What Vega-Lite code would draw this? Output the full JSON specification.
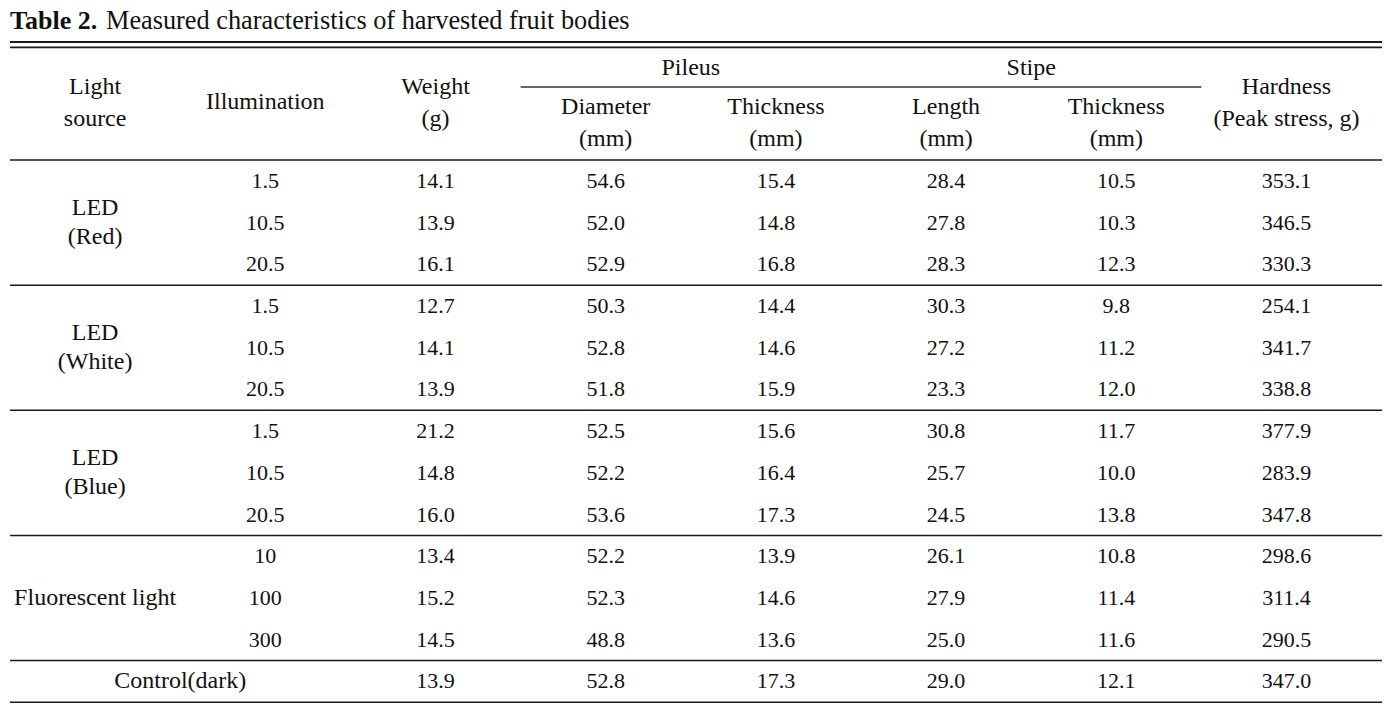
{
  "$schema": "https://vega.github.io/schema/vega-lite/v6.json",
  "width": 1372,
  "height": 705,
  "padding": {"left": 10, "right": 10, "top": 0, "bottom": 0},
  "autosize": {"type": "none"},
  "background": "white",
  "config": {
    "view": {"stroke": null},
    "text": {"font": "Liberation Serif", "fontSize": 22, "color": "#111111"},
    "rule": {"color": "#1a1a1a", "strokeWidth": 1.5}
  },
  "datasets": {
    "rows": [
      {"sample": "Red 1.5", "illum": "1.5", "weight": 14.1, "diameter": 54.6, "pileus_thickness": 15.4, "length": 28.4, "stipe_thickness": 10.5, "hardness": 353.1},
      {"sample": "Red 10.5", "illum": "10.5", "weight": 13.9, "diameter": 52.0, "pileus_thickness": 14.8, "length": 27.8, "stipe_thickness": 10.3, "hardness": 346.5},
      {"sample": "Red 20.5", "illum": "20.5", "weight": 16.1, "diameter": 52.9, "pileus_thickness": 16.8, "length": 28.3, "stipe_thickness": 12.3, "hardness": 330.3},
      {"sample": "White 1.5", "illum": "1.5", "weight": 12.7, "diameter": 50.3, "pileus_thickness": 14.4, "length": 30.3, "stipe_thickness": 9.8, "hardness": 254.1},
      {"sample": "White 10.5", "illum": "10.5", "weight": 14.1, "diameter": 52.8, "pileus_thickness": 14.6, "length": 27.2, "stipe_thickness": 11.2, "hardness": 341.7},
      {"sample": "White 20.5", "illum": "20.5", "weight": 13.9, "diameter": 51.8, "pileus_thickness": 15.9, "length": 23.3, "stipe_thickness": 12.0, "hardness": 338.8},
      {"sample": "Blue 1.5", "illum": "1.5", "weight": 21.2, "diameter": 52.5, "pileus_thickness": 15.6, "length": 30.8, "stipe_thickness": 11.7, "hardness": 377.9},
      {"sample": "Blue 10.5", "illum": "10.5", "weight": 14.8, "diameter": 52.2, "pileus_thickness": 16.4, "length": 25.7, "stipe_thickness": 10.0, "hardness": 283.9},
      {"sample": "Blue 20.5", "illum": "20.5", "weight": 16.0, "diameter": 53.6, "pileus_thickness": 17.3, "length": 24.5, "stipe_thickness": 13.8, "hardness": 347.8},
      {"sample": "Fluorescent 10", "illum": "10", "weight": 13.4, "diameter": 52.2, "pileus_thickness": 13.9, "length": 26.1, "stipe_thickness": 10.8, "hardness": 298.6},
      {"sample": "Fluorescent 100", "illum": "100", "weight": 15.2, "diameter": 52.3, "pileus_thickness": 14.6, "length": 27.9, "stipe_thickness": 11.4, "hardness": 311.4},
      {"sample": "Fluorescent 300", "illum": "300", "weight": 14.5, "diameter": 48.8, "pileus_thickness": 13.6, "length": 25.0, "stipe_thickness": 11.6, "hardness": 290.5},
      {"sample": "Control", "weight": 13.9, "diameter": 52.8, "pileus_thickness": 17.3, "length": 29.0, "stipe_thickness": 12.1, "hardness": 347.0}
    ],
    "groups": [
      {"label": "LED\n(Red)", "col": "source", "mid": "Red 10.5", "first": "Red 1.5", "lines": 2},
      {"label": "LED\n(White)", "col": "source", "mid": "White 10.5", "first": "White 1.5", "lines": 2},
      {"label": "LED\n(Blue)", "col": "source", "mid": "Blue 10.5", "first": "Blue 1.5", "lines": 2},
      {"label": "Fluorescent light", "col": "source", "mid": "Fluorescent 100", "first": "Fluorescent 10", "lines": 1},
      {"label": "Control(dark)", "col": "control", "mid": "Control", "first": "Control", "lines": 1}
    ],
    "header": [
      {"label": "Light\nsource", "col": "source", "level": "main"},
      {"label": "Illumination", "col": "illumination", "level": "single"},
      {"label": "Weight\n(g)", "col": "weight", "level": "main"},
      {"label": "Hardness\n(Peak stress, g)", "col": "hardness", "level": "main"},
      {"label": "Pileus", "col": "pileus", "level": "group"},
      {"label": "Stipe", "col": "stipe", "level": "group"},
      {"label": "Diameter\n(mm)", "col": "diameter", "level": "sub"},
      {"label": "Thickness\n(mm)", "col": "pileus_thickness", "level": "sub"},
      {"label": "Length\n(mm)", "col": "length", "level": "sub"},
      {"label": "Thickness\n(mm)", "col": "stipe_thickness", "level": "sub"}
    ],
    "title": [
      {"part": "bold", "label": "Table 2."},
      {"part": "rest", "label": "Measured characteristics of harvested fruit bodies"}
    ]
  },
  "layer": [
    {
      "data": {"name": "rows"},
      "transform": [{"fold": ["weight", "diameter", "pileus_thickness", "length", "stipe_thickness", "hardness"], "as": ["col", "value"]}],
      "mark": {"type": "text", "baseline": "middle", "align": "center"},
      "encoding": {
        "x": {"field": "col", "type": "nominal", "axis": null, "scale": {"type": "point", "domain": ["edge", "source", "control", "illumination", "_a", "weight", "_b", "diameter", "pileus", "pileus_thickness", "_c", "length", "stipe", "stipe_thickness", "_d", "hardness", "end"], "range": [0, 1361.6], "padding": 0}},
        "y": {"field": "sample", "type": "nominal", "axis": null, "scale": {"type": "band", "domain": ["title", "h1", "h2", "h3", "Red 1.5", "Red 10.5", "Red 20.5", "White 1.5", "White 10.5", "White 20.5", "Blue 1.5", "Blue 10.5", "Blue 20.5", "Fluorescent 10", "Fluorescent 100", "Fluorescent 300", "Control"], "range": [-6.8, 702.2], "paddingInner": 0, "paddingOuter": 0}},
        "text": {"field": "value", "type": "quantitative", "format": ".1f"}
      }
    },
    {
      "data": {"name": "rows"},
      "transform": [{"filter": "isValid(datum.illum)"}],
      "mark": {"type": "text", "baseline": "middle", "align": "center"},
      "encoding": {
        "x": {"datum": "illumination", "type": "nominal", "axis": null, "scale": {"type": "point", "domain": ["edge", "source", "control", "illumination", "_a", "weight", "_b", "diameter", "pileus", "pileus_thickness", "_c", "length", "stipe", "stipe_thickness", "_d", "hardness", "end"], "range": [0, 1361.6], "padding": 0}},
        "y": {"field": "sample", "type": "nominal", "axis": null, "scale": {"type": "band", "domain": ["title", "h1", "h2", "h3", "Red 1.5", "Red 10.5", "Red 20.5", "White 1.5", "White 10.5", "White 20.5", "Blue 1.5", "Blue 10.5", "Blue 20.5", "Fluorescent 10", "Fluorescent 100", "Fluorescent 300", "Control"], "range": [-6.8, 702.2], "paddingInner": 0, "paddingOuter": 0}},
        "text": {"field": "illum", "type": "nominal"}
      }
    },
    {
      "data": {"name": "groups"},
      "transform": [{"filter": "datum.lines === 2"}],
      "mark": {"type": "text", "baseline": "middle", "align": "center", "lineBreak": "\n", "lineHeight": 29, "fontSize": 24},
      "encoding": {
        "x": {"field": "col", "type": "nominal", "axis": null, "scale": {"type": "point", "domain": ["edge", "source", "control", "illumination", "_a", "weight", "_b", "diameter", "pileus", "pileus_thickness", "_c", "length", "stipe", "stipe_thickness", "_d", "hardness", "end"], "range": [0, 1361.6], "padding": 0}},
        "y": {"field": "mid", "type": "nominal", "bandPosition": 0.15, "axis": null, "scale": {"type": "band", "domain": ["title", "h1", "h2", "h3", "Red 1.5", "Red 10.5", "Red 20.5", "White 1.5", "White 10.5", "White 20.5", "Blue 1.5", "Blue 10.5", "Blue 20.5", "Fluorescent 10", "Fluorescent 100", "Fluorescent 300", "Control"], "range": [-6.8, 702.2], "paddingInner": 0, "paddingOuter": 0}},
        "text": {"field": "label", "type": "nominal"}
      }
    },
    {
      "data": {"name": "groups"},
      "transform": [{"filter": "datum.lines === 1"}],
      "mark": {"type": "text", "baseline": "middle", "align": "center", "fontSize": 24},
      "encoding": {
        "x": {"field": "col", "type": "nominal", "axis": null, "scale": {"type": "point", "domain": ["edge", "source", "control", "illumination", "_a", "weight", "_b", "diameter", "pileus", "pileus_thickness", "_c", "length", "stipe", "stipe_thickness", "_d", "hardness", "end"], "range": [0, 1361.6], "padding": 0}},
        "y": {"field": "mid", "type": "nominal", "axis": null, "scale": {"type": "band", "domain": ["title", "h1", "h2", "h3", "Red 1.5", "Red 10.5", "Red 20.5", "White 1.5", "White 10.5", "White 20.5", "Blue 1.5", "Blue 10.5", "Blue 20.5", "Fluorescent 10", "Fluorescent 100", "Fluorescent 300", "Control"], "range": [-6.8, 702.2], "paddingInner": 0, "paddingOuter": 0}},
        "text": {"field": "label", "type": "nominal"}
      }
    },
    {
      "data": {"name": "header"},
      "transform": [{"filter": "datum.level === 'main'"}],
      "mark": {"type": "text", "baseline": "middle", "align": "center", "lineBreak": "\n", "lineHeight": 32, "fontSize": 24},
      "encoding": {
        "x": {"field": "col", "type": "nominal", "axis": null, "scale": {"type": "point", "domain": ["edge", "source", "control", "illumination", "_a", "weight", "_b", "diameter", "pileus", "pileus_thickness", "_c", "length", "stipe", "stipe_thickness", "_d", "hardness", "end"], "range": [0, 1361.6], "padding": 0}},
        "y": {"datum": "h2", "type": "nominal", "bandPosition": 0.26, "axis": null, "scale": {"type": "band", "domain": ["title", "h1", "h2", "h3", "Red 1.5", "Red 10.5", "Red 20.5", "White 1.5", "White 10.5", "White 20.5", "Blue 1.5", "Blue 10.5", "Blue 20.5", "Fluorescent 10", "Fluorescent 100", "Fluorescent 300", "Control"], "range": [-6.8, 702.2], "paddingInner": 0, "paddingOuter": 0}},
        "text": {"field": "label", "type": "nominal"}
      }
    },
    {
      "data": {"name": "header"},
      "transform": [{"filter": "datum.level === 'single'"}],
      "mark": {"type": "text", "baseline": "middle", "align": "center", "fontSize": 24},
      "encoding": {
        "x": {"field": "col", "type": "nominal", "axis": null, "scale": {"type": "point", "domain": ["edge", "source", "control", "illumination", "_a", "weight", "_b", "diameter", "pileus", "pileus_thickness", "_c", "length", "stipe", "stipe_thickness", "_d", "hardness", "end"], "range": [0, 1361.6], "padding": 0}},
        "y": {"datum": "h2", "type": "nominal", "bandPosition": 0.62, "axis": null, "scale": {"type": "band", "domain": ["title", "h1", "h2", "h3", "Red 1.5", "Red 10.5", "Red 20.5", "White 1.5", "White 10.5", "White 20.5", "Blue 1.5", "Blue 10.5", "Blue 20.5", "Fluorescent 10", "Fluorescent 100", "Fluorescent 300", "Control"], "range": [-6.8, 702.2], "paddingInner": 0, "paddingOuter": 0}},
        "text": {"field": "label", "type": "nominal"}
      }
    },
    {
      "data": {"name": "header"},
      "transform": [{"filter": "datum.level === 'sub'"}],
      "mark": {"type": "text", "baseline": "middle", "align": "center", "lineBreak": "\n", "lineHeight": 32, "fontSize": 24},
      "encoding": {
        "x": {"field": "col", "type": "nominal", "axis": null, "scale": {"type": "point", "domain": ["edge", "source", "control", "illumination", "_a", "weight", "_b", "diameter", "pileus", "pileus_thickness", "_c", "length", "stipe", "stipe_thickness", "_d", "hardness", "end"], "range": [0, 1361.6], "padding": 0}},
        "y": {"datum": "h2", "type": "nominal", "bandPosition": 0.74, "axis": null, "scale": {"type": "band", "domain": ["title", "h1", "h2", "h3", "Red 1.5", "Red 10.5", "Red 20.5", "White 1.5", "White 10.5", "White 20.5", "Blue 1.5", "Blue 10.5", "Blue 20.5", "Fluorescent 10", "Fluorescent 100", "Fluorescent 300", "Control"], "range": [-6.8, 702.2], "paddingInner": 0, "paddingOuter": 0}},
        "text": {"field": "label", "type": "nominal"}
      }
    },
    {
      "data": {"name": "header"},
      "transform": [{"filter": "datum.level === 'group'"}],
      "mark": {"type": "text", "baseline": "middle", "align": "center", "fontSize": 24},
      "encoding": {
        "x": {"field": "col", "type": "nominal", "axis": null, "scale": {"type": "point", "domain": ["edge", "source", "control", "illumination", "_a", "weight", "_b", "diameter", "pileus", "pileus_thickness", "_c", "length", "stipe", "stipe_thickness", "_d", "hardness", "end"], "range": [0, 1361.6], "padding": 0}},
        "y": {"datum": "h1", "type": "nominal", "bandPosition": 0.79, "axis": null, "scale": {"type": "band", "domain": ["title", "h1", "h2", "h3", "Red 1.5", "Red 10.5", "Red 20.5", "White 1.5", "White 10.5", "White 20.5", "Blue 1.5", "Blue 10.5", "Blue 20.5", "Fluorescent 10", "Fluorescent 100", "Fluorescent 300", "Control"], "range": [-6.8, 702.2], "paddingInner": 0, "paddingOuter": 0}},
        "text": {"field": "label", "type": "nominal"}
      }
    },
    {
      "data": {"name": "title"},
      "transform": [{"filter": "datum.part === 'bold'"}],
      "mark": {"type": "text", "baseline": "middle", "align": "left", "fontWeight": "bold", "fontSize": 26},
      "encoding": {
        "x": {"datum": "edge", "type": "nominal", "axis": null, "scale": {"type": "point", "domain": ["edge", "source", "control", "illumination", "_a", "weight", "_b", "diameter", "pileus", "pileus_thickness", "_c", "length", "stipe", "stipe_thickness", "_d", "hardness", "end"], "range": [0, 1361.6], "padding": 0}},
        "y": {"datum": "title", "type": "nominal", "bandPosition": 0.655, "axis": null, "scale": {"type": "band", "domain": ["title", "h1", "h2", "h3", "Red 1.5", "Red 10.5", "Red 20.5", "White 1.5", "White 10.5", "White 20.5", "Blue 1.5", "Blue 10.5", "Blue 20.5", "Fluorescent 10", "Fluorescent 100", "Fluorescent 300", "Control"], "range": [-6.8, 702.2], "paddingInner": 0, "paddingOuter": 0}},
        "text": {"field": "label", "type": "nominal"}
      }
    },
    {
      "data": {"name": "title"},
      "transform": [{"filter": "datum.part === 'rest'"}],
      "mark": {"type": "text", "baseline": "middle", "align": "left", "fontSize": 26.3, "dx": 96},
      "encoding": {
        "x": {"datum": "edge", "type": "nominal", "axis": null, "scale": {"type": "point", "domain": ["edge", "source", "control", "illumination", "_a", "weight", "_b", "diameter", "pileus", "pileus_thickness", "_c", "length", "stipe", "stipe_thickness", "_d", "hardness", "end"], "range": [0, 1361.6], "padding": 0}},
        "y": {"datum": "title", "type": "nominal", "bandPosition": 0.655, "axis": null, "scale": {"type": "band", "domain": ["title", "h1", "h2", "h3", "Red 1.5", "Red 10.5", "Red 20.5", "White 1.5", "White 10.5", "White 20.5", "Blue 1.5", "Blue 10.5", "Blue 20.5", "Fluorescent 10", "Fluorescent 100", "Fluorescent 300", "Control"], "range": [-6.8, 702.2], "paddingInner": 0, "paddingOuter": 0}},
        "text": {"field": "label", "type": "nominal"}
      }
    },
    {
      "data": {"values": [{}]},
      "mark": {"type": "rule", "strokeWidth": 2},
      "encoding": {
        "y": {"datum": "h1", "type": "nominal", "bandPosition": 0.17, "axis": null, "scale": {"type": "band", "domain": ["title", "h1", "h2", "h3", "Red 1.5", "Red 10.5", "Red 20.5", "White 1.5", "White 10.5", "White 20.5", "Blue 1.5", "Blue 10.5", "Blue 20.5", "Fluorescent 10", "Fluorescent 100", "Fluorescent 300", "Control"], "range": [-6.8, 702.2], "paddingInner": 0, "paddingOuter": 0}}
      }
    },
    {
      "data": {"values": [{}]},
      "mark": {"type": "rule", "strokeWidth": 1.6},
      "encoding": {
        "y": {"datum": "h1", "type": "nominal", "bandPosition": 0.3, "axis": null, "scale": {"type": "band", "domain": ["title", "h1", "h2", "h3", "Red 1.5", "Red 10.5", "Red 20.5", "White 1.5", "White 10.5", "White 20.5", "Blue 1.5", "Blue 10.5", "Blue 20.5", "Fluorescent 10", "Fluorescent 100", "Fluorescent 300", "Control"], "range": [-6.8, 702.2], "paddingInner": 0, "paddingOuter": 0}}
      }
    },
    {
      "data": {"values": [{}]},
      "mark": {"type": "rule", "strokeWidth": 1.5, "color": "#333333"},
      "encoding": {
        "x": {"datum": "_b", "type": "nominal", "axis": null, "scale": {"type": "point", "domain": ["edge", "source", "control", "illumination", "_a", "weight", "_b", "diameter", "pileus", "pileus_thickness", "_c", "length", "stipe", "stipe_thickness", "_d", "hardness", "end"], "range": [0, 1361.6], "padding": 0}},
        "x2": {"datum": "_d"},
        "y": {"datum": "h2", "type": "nominal", "bandPosition": 0.25, "axis": null, "scale": {"type": "band", "domain": ["title", "h1", "h2", "h3", "Red 1.5", "Red 10.5", "Red 20.5", "White 1.5", "White 10.5", "White 20.5", "Blue 1.5", "Blue 10.5", "Blue 20.5", "Fluorescent 10", "Fluorescent 100", "Fluorescent 300", "Control"], "range": [-6.8, 702.2], "paddingInner": 0, "paddingOuter": 0}}
      }
    },
    {
      "data": {"name": "groups"},
      "mark": {"type": "rule"},
      "encoding": {
        "y": {"field": "first", "type": "nominal", "bandPosition": 0, "axis": null, "scale": {"type": "band", "domain": ["title", "h1", "h2", "h3", "Red 1.5", "Red 10.5", "Red 20.5", "White 1.5", "White 10.5", "White 20.5", "Blue 1.5", "Blue 10.5", "Blue 20.5", "Fluorescent 10", "Fluorescent 100", "Fluorescent 300", "Control"], "range": [-6.8, 702.2], "paddingInner": 0, "paddingOuter": 0}}
      }
    },
    {
      "data": {"values": [{}]},
      "mark": {"type": "rule"},
      "encoding": {
        "y": {"datum": "Control", "type": "nominal", "bandPosition": 1, "axis": null, "scale": {"type": "band", "domain": ["title", "h1", "h2", "h3", "Red 1.5", "Red 10.5", "Red 20.5", "White 1.5", "White 10.5", "White 20.5", "Blue 1.5", "Blue 10.5", "Blue 20.5", "Fluorescent 10", "Fluorescent 100", "Fluorescent 300", "Control"], "range": [-6.8, 702.2], "paddingInner": 0, "paddingOuter": 0}}
      }
    }
  ]
}
